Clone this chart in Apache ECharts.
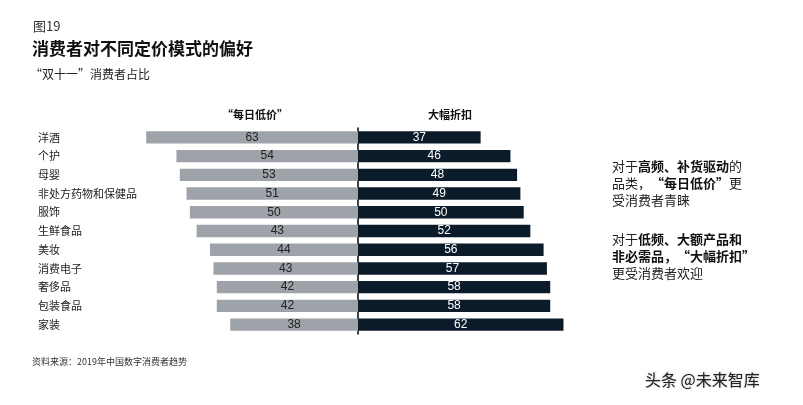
<!DOCTYPE html>
<html>
<head>
<meta charset="utf-8">
<script src="https://cdn.jsdelivr.net/npm/echarts@6/dist/echarts.min.js"></script>
<style>
  html, body { margin: 0; padding: 0; background: #fff; }
  #container1 { width: 803px; height: 405px; }
</style>
</head>
<body>
<div id="container1"></div>
<script>
// 品类
var cats = ['洋酒','个护','母婴','非处方药物和保健品','服饰','生鲜食品','美妆','消费电子','奢侈品','包装食品','家装'];
// 每日低价（柱长）
var lowPrice = [63, 54, 53, 51, 50, 48, 44, 43, 42, 42, 38];
// 每日低价（图上标注的数字）
var lowPriceText = ['63','54','53','51','50','43','44','43','42','42','38'];
// 大幅折扣
var discount = [37, 46, 48, 49, 50, 52, 56, 57, 58, 58, 62];

var FONT = '"Noto Sans CJK SC", "Noto Sans", sans-serif';

window.onload = function () {
	draw();
};

function draw() {
	var dom = document.getElementById("container1");
	var myChart = echarts.init(dom);
	var option = {
		animation: false,
		backgroundColor: '#fff',
		textStyle: { fontFamily: FONT },
		grid: [
			{ left: 126, width: 232, top: 128, height: 206 },
			{ left: 358, width: 232, top: 128, height: 206 }
		],
		xAxis: [
			{ gridIndex: 0, type: 'value', min: 0, max: 69, inverse: true, show: false },
			{ gridIndex: 1, type: 'value', min: 0, max: 70, show: false }
		],
		yAxis: [
			{
				gridIndex: 0, type: 'category', data: cats, inverse: true,
				axisLine: { show: false }, axisTick: { show: false },
				axisLabel: {
					align: 'left', margin: 88, fontSize: 11, color: '#222', fontFamily: FONT
				}
			},
			{
				gridIndex: 1, type: 'category', data: cats, inverse: true,
				axisLine: { show: true, lineStyle: { color: '#000', width: 1.5 } },
				axisTick: { show: false }, axisLabel: { show: false }
			}
		],
		series: [
			{
				name: '每日低价', type: 'bar', xAxisIndex: 0, yAxisIndex: 0,
				data: lowPrice, barCategoryGap: '34%',
				itemStyle: { color: '#9ea3a9' },
				label: {
					show: true, position: 'inside', fontSize: 12, color: '#222',
					fontFamily: 'Liberation Sans, Arial, sans-serif',
					formatter: function (p) { return lowPriceText[p.dataIndex]; }
				}
			},
			{
				name: '大幅折扣', type: 'bar', xAxisIndex: 1, yAxisIndex: 1,
				data: discount, barCategoryGap: '34%',
				itemStyle: { color: '#0c1b2a' },
				label: {
					show: true, position: 'inside', fontSize: 12, color: '#fff',
					fontFamily: 'Liberation Sans, Arial, sans-serif'
				}
			}
		],
		graphic: [
			{ type: 'text', style: { text: '图19', x: 33, y: 26, fill: '#333', font: '13px ' + FONT, verticalAlign: 'middle' } },
			{ type: 'text', style: { text: '消费者对不同定价模式的偏好', x: 32, y: 49, fill: '#111', font: 'bold 17px ' + FONT, verticalAlign: 'middle' } },
			{ type: 'text', style: { text: '“双十一”消费者占比', x: 30, y: 74, fill: '#222', font: '12px ' + FONT, verticalAlign: 'middle' } },
			{ type: 'text', style: { text: '“每日低价”', x: 255, y: 115, fill: '#111', font: 'bold 11px ' + FONT, align: 'center', verticalAlign: 'middle' } },
			{ type: 'text', style: { text: '大幅折扣', x: 450, y: 115, fill: '#111', font: 'bold 11px ' + FONT, align: 'center', verticalAlign: 'middle' } },
			{
				type: 'text',
				style: {
					x: 612, y: 158,
					text: '对于{b|高频、补货驱动}的\n品类，{b|“每日低价”}更\n受消费者青睐',
					font: '13px ' + FONT, fill: '#222', lineHeight: 17,
					rich: { b: { fontWeight: 'bold', fontSize: 13, fill: '#111', fontFamily: FONT } }
				}
			},
			{
				type: 'text',
				style: {
					x: 612, y: 231,
					text: '对于{b|低频、大额产品和}\n{b|非必需品，“大幅折扣”}\n更受消费者欢迎',
					font: '13px ' + FONT, fill: '#222', lineHeight: 17,
					rich: { b: { fontWeight: 'bold', fontSize: 13, fill: '#111', fontFamily: FONT } }
				}
			},
			{ type: 'text', style: { text: '资料来源：2019年中国数字消费者趋势', x: 32, y: 362, fill: '#333', font: '9px ' + FONT, verticalAlign: 'middle' } },
			{ type: 'text', style: { text: '头条 @未来智库', x: 645, y: 380, fill: '#222', font: '16px ' + FONT, verticalAlign: 'middle', textShadowColor: 'rgba(0,0,0,0.3)', textShadowBlur: 2 } }
		]
	};
	myChart.setOption(option, true);
	window.addEventListener("resize", function () {
		myChart.resize();
	});
}
</script>
</body>
</html>
